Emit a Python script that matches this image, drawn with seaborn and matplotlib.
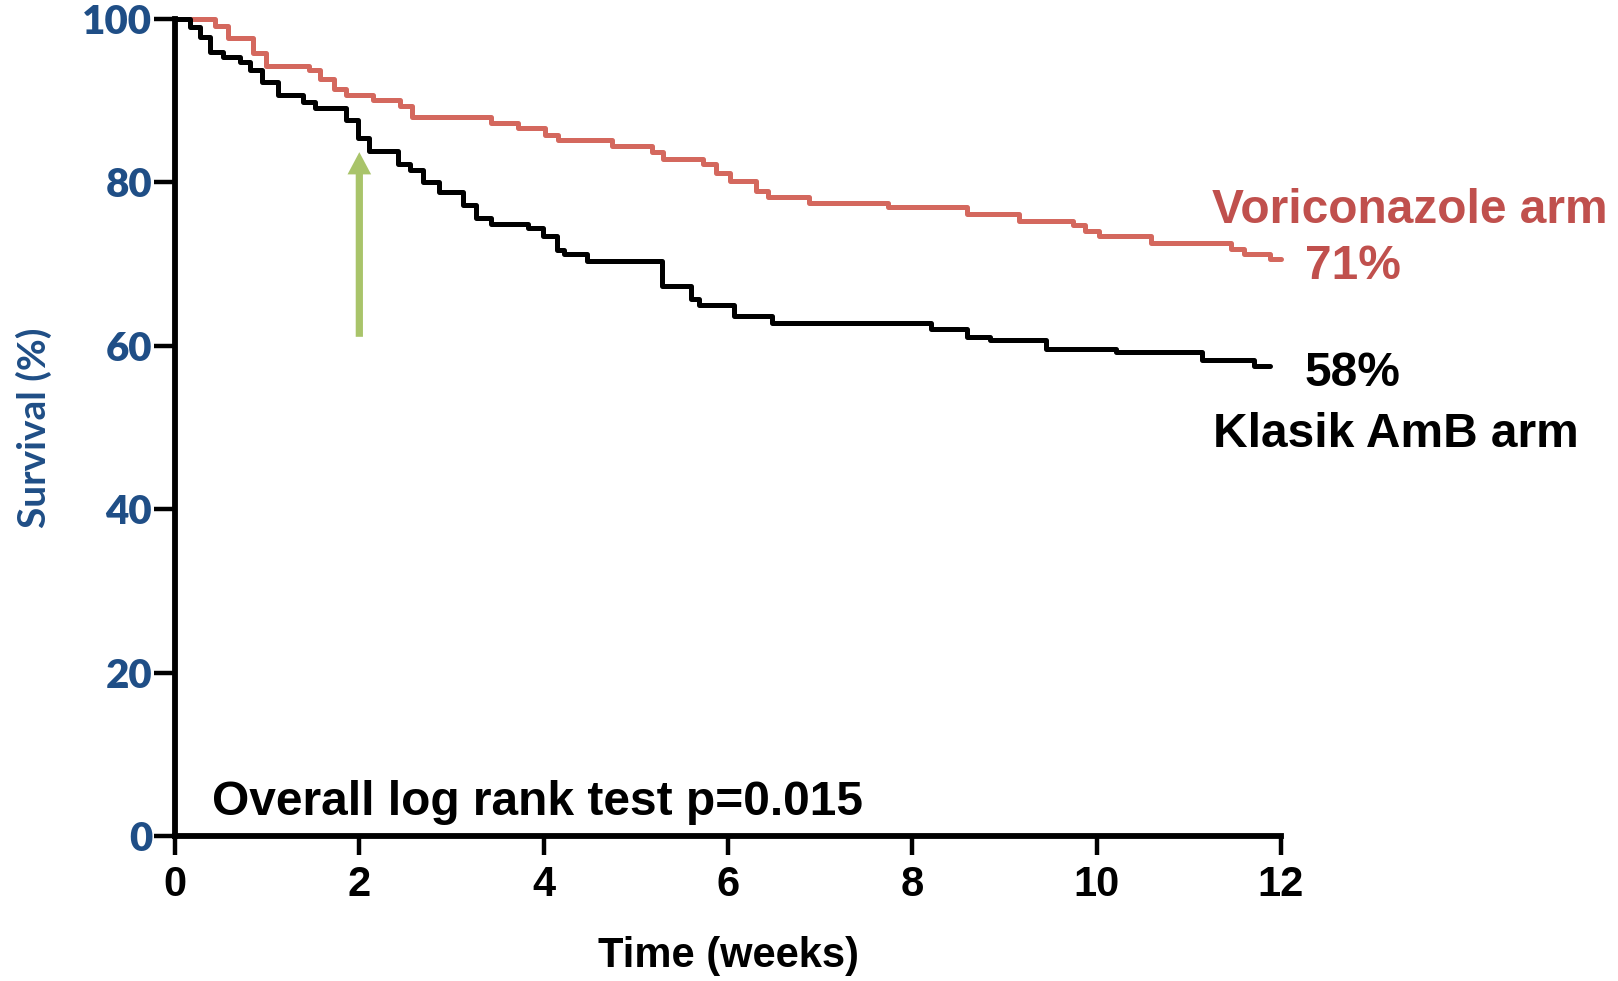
import matplotlib
matplotlib.use("Agg")
import matplotlib.pyplot as plt
import seaborn as sns
import pandas as pd

# ---- data ----
vori_t = [0, 0.43, 0.58, 0.85, 0.99, 1.45, 1.57, 1.72, 1.86, 2.15, 2.44, 2.57, 3.43, 3.72,
          4.01, 4.16, 4.74, 5.17, 5.30, 5.73, 5.87, 6.02, 6.30, 6.43, 6.88, 7.74, 8.59,
          9.16, 9.74, 9.87, 10.03, 10.59, 11.46, 11.60, 11.88, 12.0]
vori_s = [100, 99.1, 97.7, 95.8, 94.2, 93.7, 92.6, 91.4, 90.7, 90.1, 89.4, 87.95, 87.3, 86.6,
          85.8, 85.2, 84.5, 83.7, 82.9, 82.3, 81.1, 80.2, 78.9, 78.2, 77.5, 77.0, 76.1,
          75.3, 74.8, 74.1, 73.4, 72.6, 71.8, 71.2, 70.6, 70.6]

amb_t = [0, 0.16, 0.27, 0.38, 0.52, 0.70, 0.81, 0.94, 1.12, 1.39, 1.52, 1.86, 1.99, 2.11,
         2.42, 2.55, 2.69, 2.86, 3.13, 3.27, 3.43, 3.83, 3.99, 4.14, 4.22, 4.47, 5.28,
         5.60, 5.69, 6.07, 6.48, 8.20, 8.59, 8.84, 9.45, 10.21, 11.14, 11.71, 11.88]
amb_s = [100, 99.05, 97.8, 96.0, 95.3, 94.7, 93.7, 92.3, 90.7, 89.9, 89.1, 87.6, 85.4, 83.9,
         82.3, 81.5, 80.1, 78.8, 77.2, 75.6, 74.9, 74.4, 73.4, 71.7, 71.2, 70.4, 67.3,
         65.7, 65.0, 63.6, 62.8, 62.1, 61.1, 60.7, 59.6, 59.2, 58.3, 57.5, 57.5]

x_ticks = [0, 2, 4, 6, 8, 10, 12]
y_ticks = [0, 20, 40, 60, 80, 100]
arrow_t = 2.0
arrow_from = 61.1
arrow_to = 83.7

# ---- style ----
sns.set_theme(style="ticks")
plt.rcParams["font.family"] = ["Liberation Sans", "DejaVu Sans"]

BLUE = "#1f4e86"
RED_LINE = "#d4685e"
RED_TEXT = "#c0504d"
GREEN = "#a9c46a"

fig = plt.figure(figsize=(16.18, 9.81), dpi=100)
ax = fig.add_axes([175 / 1618, 1 - 836 / 981, (1281 - 175) / 1618, (836 - 19) / 981])

df_v = pd.DataFrame({"t": vori_t, "s": vori_s})
df_a = pd.DataFrame({"t": amb_t, "s": amb_s})

sns.lineplot(data=df_v, x="t", y="s", ax=ax, color=RED_LINE, lw=3.6,
             drawstyle="steps-post", clip_on=False, estimator=None)
sns.lineplot(data=df_a, x="t", y="s", ax=ax, color="black", lw=3.6,
             drawstyle="steps-post", clip_on=False, estimator=None)

ax.set_xlim(0, 12)
ax.set_ylim(0, 100)
ax.set_xticks(x_ticks)
ax.set_yticks(y_ticks)
ax.set_xticklabels([str(v) for v in x_ticks], fontsize=30, fontweight="bold",
                   family=["Liberation Sans", "DejaVu Sans"], color="black")
ax.set_yticklabels([str(v) for v in y_ticks], fontsize=29, fontweight="heavy",
                   family=["Lato", "DejaVu Sans"], color=BLUE)

for side in ["top", "right"]:
    ax.spines[side].set_visible(False)
for side in ["left", "bottom"]:
    ax.spines[side].set_linewidth(4.2)
    ax.spines[side].set_color("black")
    ax.spines[side].set_capstyle("projecting")

ax.tick_params(axis="y", length=15, width=3.2, pad=1.5, color="black", direction="out")
ax.tick_params(axis="x", length=14, width=3.2, pad=7, color="black", direction="out")

ax.set_xlabel("Time (weeks)", fontsize=30, fontweight="bold",
              family=["Liberation Sans", "DejaVu Sans"], labelpad=22, color="black")
ax.set_ylabel("Survival (%)", fontsize=28, fontweight="bold",
              family=["Lato", "DejaVu Sans"], labelpad=22, color=BLUE)
ax.grid(False)

# arrow
ax.annotate("", xy=(arrow_t, arrow_to), xytext=(arrow_t, arrow_from),
            arrowprops=dict(arrowstyle="simple,head_length=16,head_width=17,tail_width=5.2",
                            mutation_scale=1, color=GREEN, lw=0, shrinkA=0, shrinkB=0))

# labels
fs = 34.5
ax.text(11.25, 75.0, "Voriconazole arm", color=RED_TEXT, fontsize=fs, fontweight="bold",
        ha="left", va="baseline", clip_on=False)
ax.text(12.26, 68.2, "71%", color=RED_TEXT, fontsize=fs, fontweight="bold",
        ha="left", va="baseline", clip_on=False)
ax.text(12.26, 55.1, "58%", color="black", fontsize=fs, fontweight="bold",
        ha="left", va="baseline", clip_on=False)
ax.text(11.26, 47.65, "Klasik AmB arm", color="black", fontsize=fs, fontweight="bold",
        ha="left", va="baseline", clip_on=False)
ax.text(0.40, 2.6, "Overall log rank test p=0.015", color="black", fontsize=34.5,
        fontweight="bold", ha="left", va="baseline")

fig.savefig("out.png", dpi=100, facecolor="white")
